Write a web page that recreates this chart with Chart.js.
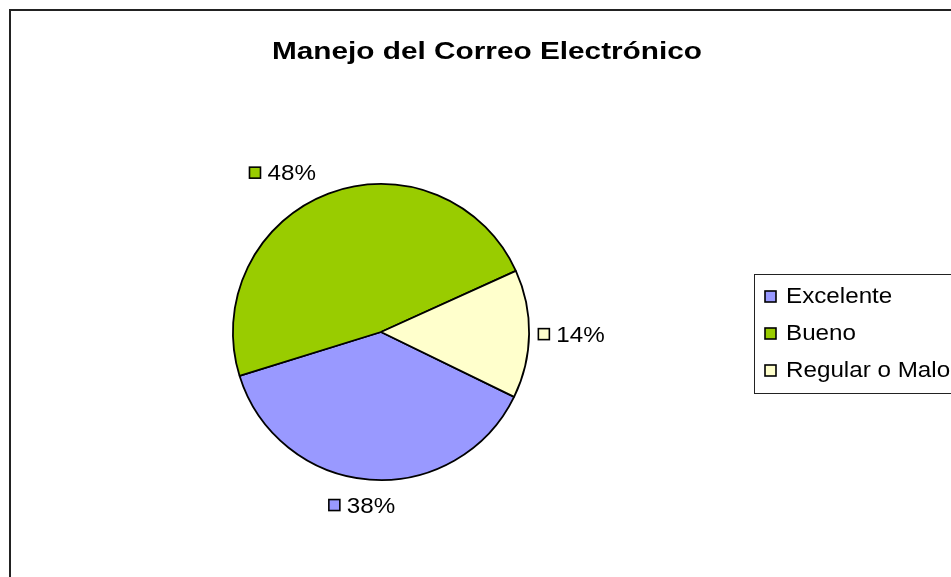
<!DOCTYPE html>
<html>
<head>
<meta charset="utf-8">
<script src="https://cdn.jsdelivr.net/npm/chart.js@4.4.1/dist/chart.umd.min.js"></script>
<style>
  html, body { margin: 0; padding: 0; background: #fff; }
  #wrap { width: 951px; height: 577px; position: relative; }
</style>
</head>
<body>
<div id="wrap"><canvas id="c" width="951" height="577"></canvas></div>
<script>
const categories = ['Excelente', 'Bueno', 'Regular o Malo'];
const values = [38, 48, 14];
const sliceColors = ['#9999FF', '#99CC00', '#FFFFCC'];
const chartTitle = 'Manejo del Correo Electrónico';

const font = '"Liberation Sans", Arial, sans-serif';
const stretch = 1.1; // the original text is a bit wide

// draw text stretched horizontally, x is the left edge (or centre)
function wideText(ctx, txt, x, y, sx, center) {
  const w = ctx.measureText(txt).width * sx;
  ctx.save();
  ctx.translate(center ? x - w / 2 : x, y);
  ctx.scale(sx, 1);
  ctx.textAlign = 'left';
  ctx.fillText(txt, 0, 0);
  ctx.restore();
  return w;
}

// frame, title, labels and legend box drawn by hand (Excel style)
const excelDecor = {
  id: 'excelDecor',
  beforeDraw(chart) {
    const ctx = chart.ctx;
    ctx.save();
    ctx.fillStyle = '#fff';
    ctx.fillRect(0, 0, chart.width, chart.height);
    ctx.strokeStyle = '#222';
    ctx.lineWidth = 2;
    ctx.beginPath();
    ctx.moveTo(10, chart.height + 5);
    ctx.lineTo(10, 10);
    ctx.lineTo(chart.width + 5, 10);
    ctx.stroke();

    ctx.fillStyle = '#000';
    ctx.font = 'bold 24px ' + font;
    ctx.textBaseline = 'middle';
    wideText(ctx, chartTitle, 487, 52, 1.24, true);
    ctx.restore();
  },
  afterDraw(chart) {
    const ctx = chart.ctx;
    const meta = chart.getDatasetMeta(0);
    const total = values.reduce((a, b) => a + b, 0);
    const nudge = [[-4, -14], [-31, 17], [3, 0]];
    ctx.save();
    ctx.font = '22px ' + font;
    ctx.textBaseline = 'middle';
    meta.data.forEach((arc, i) => {
      const mid = (arc.startAngle + arc.endAngle) / 2;
      const dist = arc.outerRadius + 40;
      const label = Math.round(values[i] / total * 100) + '%';
      const w = 12 + 7 + ctx.measureText(label).width * stretch;
      const cx = arc.x + Math.cos(mid) * dist + nudge[i][0];
      const cy = arc.y + Math.sin(mid) * dist + nudge[i][1];
      const x0 = cx - w / 2;
      ctx.fillStyle = sliceColors[i];
      ctx.fillRect(x0, cy - 6, 11, 11);
      ctx.strokeStyle = '#000';
      ctx.lineWidth = 1.6;
      ctx.strokeRect(x0, cy - 6, 11, 11);
      ctx.fillStyle = '#000';
      wideText(ctx, label, x0 + 18, cy + 1, stretch, false);
    });

    // legend
    ctx.strokeStyle = '#222';
    ctx.lineWidth = 1;
    ctx.strokeRect(754.5, 274.5, 220, 119);
    categories.forEach((name, i) => {
      const y = 296 + i * 37;
      ctx.fillStyle = sliceColors[i];
      ctx.fillRect(765, y - 5, 11, 11);
      ctx.strokeStyle = '#000';
      ctx.lineWidth = 1.6;
      ctx.strokeRect(765, y - 5, 11, 11);
      ctx.fillStyle = '#000';
      wideText(ctx, name, 786, y + 1, stretch, false);
    });
    ctx.restore();
  }
};

new Chart(document.getElementById('c'), {
  type: 'pie',
  data: {
    labels: categories,
    datasets: [{
      data: values,
      backgroundColor: sliceColors,
      borderColor: '#000',
      borderWidth: 1.8
    }]
  },
  options: {
    responsive: false,
    animation: false,
    rotation: 116,
    layout: { padding: { left: 232, right: 421, top: 183, bottom: 96 } },
    plugins: {
      legend: { display: false },
      title: { display: false },
      tooltip: { enabled: false }
    }
  },
  plugins: [excelDecor]
});
</script>
</body>
</html>
